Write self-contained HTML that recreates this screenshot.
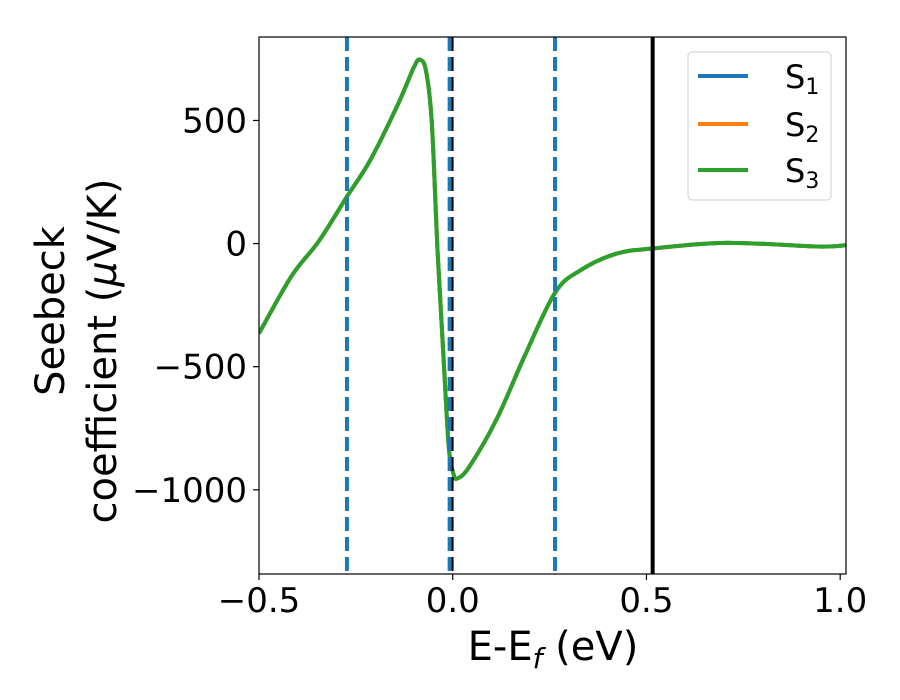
<!DOCTYPE html>
<html><head><meta charset="utf-8"><style>
body{margin:0;background:#fff;}
svg text{font-family:"DejaVu Sans","Liberation Sans",sans-serif;fill:#000;}
</style></head><body>
<svg id="chart" width="900" height="700" xmlns="http://www.w3.org/2000/svg" style="position:absolute;left:0;top:0">
<g id="plot"></g>
</svg>
<script>
const xs=[-0.5,-0.416,-0.345,-0.273,-0.212,-0.141,-0.10,-0.085,-0.069,-0.054,-0.039,-0.023,-0.010,0.002,0.012,0.043,0.114,0.186,0.264,0.328,0.42,0.515,0.706,0.94,1.015];
const sVals=[-365,-132,11,191,341,567,717,747,702,491,-35,-485,-831,-936,-954,-906,-711,-455,-200,-110,-42,-20,3,-12,-7];
const xTicks=[-0.5,0.0,0.5,1.0];
const xTickLabels=["\u22120.5","0.0","0.5","1.0"];
const yTicks=[500,0,-500,-1000];
const yTickLabels=["500","0","\u2212500","\u22121000"];
const blueLines=[-0.273,-0.008,0.264];
const blackDashed=[-0.003];
const blackSolid=[0.516];
const X0=259,X1=846,Y0=37,Y1=574;
const xmin=-0.5,xmax=1.015,ymin=-1342,ymax=839;
const sx=v=>X0+(v-xmin)/(xmax-xmin)*(X1-X0);
const sy=v=>Y1-(v-ymin)/(ymax-ymin)*(Y1-Y0);
const NS="http://www.w3.org/2000/svg";
const svg=document.getElementById('chart');
const g=document.getElementById('plot');
function mk(tag,attrs,parent){const e=document.createElementNS(NS,tag);for(const k in attrs)e.setAttribute(k,attrs[k]);(parent||g).appendChild(e);return e;}
const defs=mk('defs',{},svg);
const cp=mk('clipPath',{id:'cp'},defs);
mk('rect',{x:X0,y:Y0,width:X1-X0,height:Y1-Y0},cp);
const clipG=mk('g',{'clip-path':'url(#cp)'});


function pathFrom(px,py){let d=`M${px[0]},${py[0]}`;for(let i=0;i<px.length-1;i++){const p0=i?i-1:i,p3=i+2<px.length?i+2:i+1;
const c1x=px[i]+(px[i+1]-px[p0])/6,c1y=py[i]+(py[i+1]-py[p0])/6,c2x=px[i+1]-(px[p3]-px[i])/6,c2y=py[i+1]-(py[p3]-py[i])/6;
d+=` C${c1x},${c1y} ${c2x},${c2y} ${px[i+1]},${py[i+1]}`;}return d;}
const px=xs.map(sx),py=sVals.map(sy);
const colors=['#1f77b4','#ff7f0e','#2ca02c'];
colors.forEach((c,i)=>{const p=mk('path',{d:pathFrom(px,py),fill:'none',stroke:c,'stroke-width':4,'stroke-linejoin':'round'},clipG);

});
blackDashed.forEach(v=>{const l=mk('line',{x1:sx(v),x2:sx(v),y1:Y0,y2:Y1,stroke:'#000','stroke-width':4,'stroke-dasharray':'14 6'},clipG);

});
blackSolid.forEach(v=>{const l=mk('line',{x1:sx(v),x2:sx(v),y1:Y0,y2:Y1,stroke:'#000','stroke-width':4},clipG);

});
blueLines.forEach(v=>{const l=mk('line',{x1:sx(v),x2:sx(v),y1:Y0,y2:Y1,stroke:'#1f77b4','stroke-width':4,'stroke-dasharray':'14 6'},clipG);

});
const fr=mk('rect',{x:X0,y:Y0,width:X1-X0,height:Y1-Y0,fill:'none',stroke:'#000','stroke-width':1.2});


xTicks.forEach((v,i)=>{mk('line',{x1:sx(v),x2:sx(v),y1:Y1,y2:Y1+6,stroke:'#000','stroke-width':1.2});
const t=mk('text',{x:sx(v),y:Y1+38,'text-anchor':'middle','font-size':34});t.textContent=xTickLabels[i];

});
yTicks.forEach((v,i)=>{mk('line',{x1:X0-6,x2:X0,y1:sy(v),y2:sy(v),stroke:'#000','stroke-width':1.2});
const t=mk('text',{x:X0-12,y:sy(v)+12,'text-anchor':'end','font-size':34});t.textContent=yTickLabels[i];

});
</script>
<svg style="position:absolute;left:0;top:0" width="900" height="700">
<text x="553" y="660" text-anchor="middle" font-size="40">E-E<tspan font-size="28" dy="8" font-style="italic">f</tspan><tspan dy="-8"> (eV)</tspan></text>
<text transform="translate(64,311) rotate(-90)" x="0" y="0" text-anchor="middle" font-size="40">Seebeck</text>
<text transform="translate(116,351) rotate(-90)" x="0" y="0" text-anchor="middle" font-size="40">coefficient  (<tspan font-style="italic">μ</tspan>V/K)</text>
<g>
<rect x="688" y="52" width="143" height="148" rx="4" fill="#fff" fill-opacity="0.8" stroke="#ccc" stroke-width="1"/>
<line x1="698" x2="748" y1="76" y2="76" stroke="#1f77b4" stroke-width="4"/>
<text x="785" y="88" font-size="32">S<tspan font-size="22" dy="6">1</tspan></text>
<line x1="698" x2="748" y1="124" y2="124" stroke="#ff7f0e" stroke-width="4"/>
<text x="785" y="136" font-size="32">S<tspan font-size="22" dy="6">2</tspan></text>
<line x1="698" x2="748" y1="170" y2="170" stroke="#2ca02c" stroke-width="4"/>
<text x="785" y="182" font-size="32">S<tspan font-size="22" dy="6">3</tspan></text>
</g>
</svg>
</body></html>
